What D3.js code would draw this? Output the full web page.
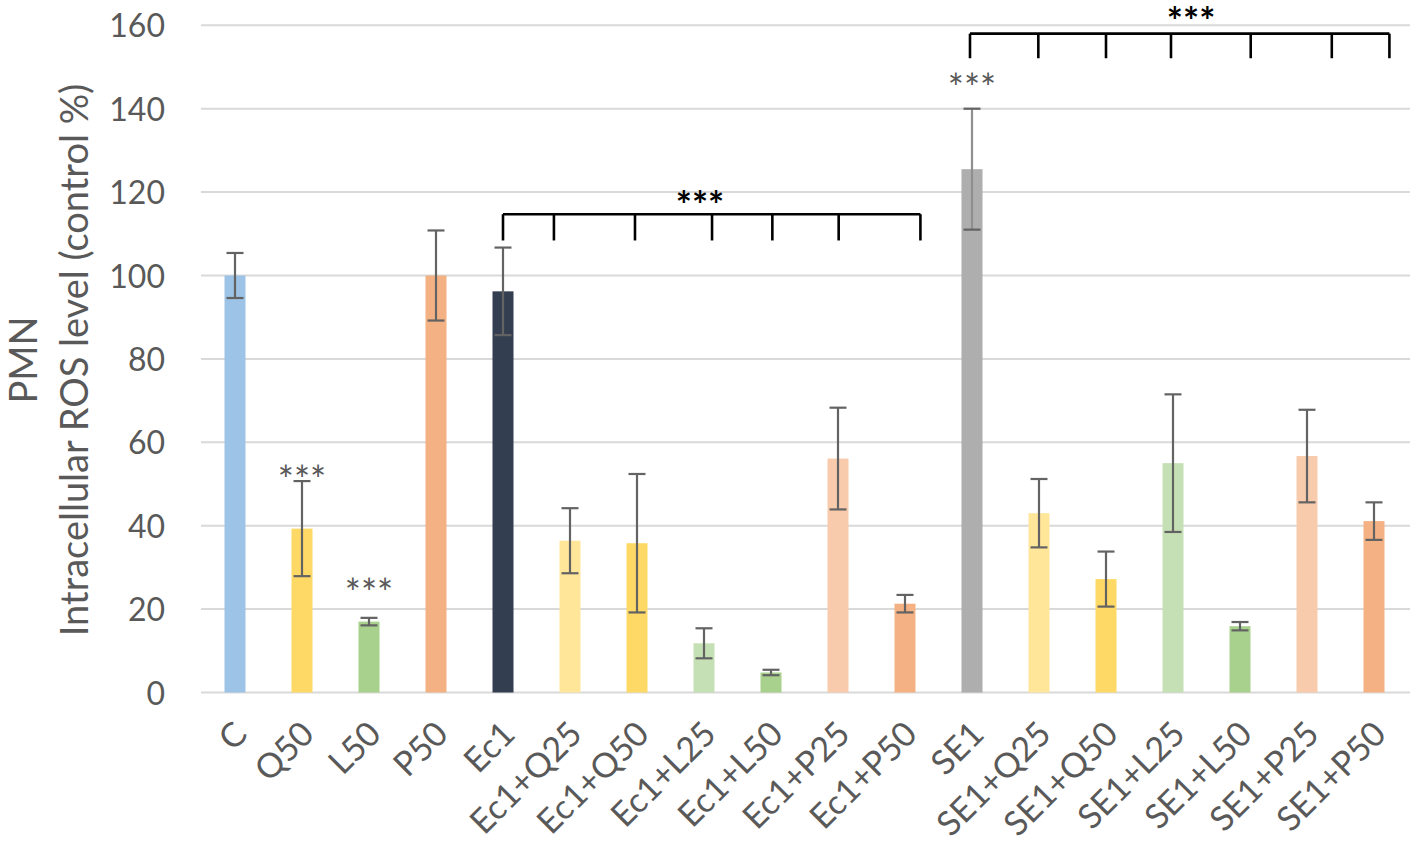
<!DOCTYPE html>
<html><head><meta charset="utf-8">
<script src="https://cdn.jsdelivr.net/npm/d3@7"></script>
<style>
html,body{margin:0;padding:0;background:#fff;}
svg{display:block;font-family:Lato,"Open Sans",sans-serif;}
</style></head>
<body><svg id="chart" width="1417" height="843"></svg>
<script>
// ---- data ----
const categories = ["C","Q50","L50","P50","Ec1","Ec1+Q25","Ec1+Q50","Ec1+L25","Ec1+L50","Ec1+P25","Ec1+P50","SE1","SE1+Q25","SE1+Q50","SE1+L25","SE1+L50","SE1+P25","SE1+P50"];
const values   = [100, 39.3, 17.0, 100, 96.2, 36.4, 35.8, 11.8, 4.8, 56.1, 21.3, 125.5, 43.0, 27.2, 55.0, 15.9, 56.7, 41.1];
const errors   = [5.4, 11.4, 0.9, 10.8, 10.5, 7.8, 16.6, 3.6, 0.65, 12.2, 2.1, 14.5, 8.2, 6.6, 16.5, 1.0, 11.1, 4.5];
const colors   = ["#9DC3E6","#FFD966","#A9D18E","#F4B183","#333F50","#FFE699","#FFD966","#C5E0B4","#A9D18E","#F8CBAD","#F4B183","#AEAEAE","#FFE699","#FFD966","#C5E0B4","#A9D18E","#F8CBAD","#F4B183"];
const yTicks   = [0,20,40,60,80,100,120,140,160];
const yTitle   = ["PMN","Intracellular ROS level (control %)"];
// significance marks on single bars (category, label baseline in value units)
const starCats = ["Q50","L50","SE1"];
const starVals = [47.6, 20.5, 141.6];
// comparison brackets: line level, tick bottom level, tick positions (in category index units)
const bracket1Ticks = [4.0, 4.76, 5.97, 7.12, 8.02, 9.01, 10.23];
const bracket2Ticks = [10.97, 11.99, 13.0, 13.97, 15.16, 16.37, 17.23];
const bracketLevels = [114.7, 158.0];
const bracketTickEnds = [108.4, 152.1];
const bracketStarVals = [113.6, 157.6];
const bracketStarIdx = [6.94, 14.27];

// ---- layout ----
const svg = d3.select("#chart");
const x = d3.scaleBand().domain(categories).range([201.5, 1407.5]).paddingInner(0).paddingOuter(0);
const y = d3.scaleLinear().domain([0,160]).range([692.5, 25.3]);
const barW = 21;
const cx = c => x(c) + x.bandwidth()/2;
const xi = i => x(categories[0]) + x.bandwidth()/2 + i * x.step();

// gridlines
svg.append("g").selectAll("line").data(yTicks).join("line")
  .attr("x1", 201).attr("x2", 1410)
  .attr("y1", d => y(d)).attr("y2", d => y(d))
  .attr("stroke", "#d9d9d9").attr("stroke-width", 2);

// y axis labels
const yAxis = d3.axisLeft(y).tickValues(yTicks).tickSize(0).tickPadding(0);
const ya = svg.append("g").attr("transform","translate(165,0)").call(yAxis);
ya.select(".domain").remove();
ya.selectAll("text").attr("font-size", 32).attr("fill","#595959").attr("font-family","Lato").attr("dy","0.36em");

// bars
const data = categories.map((c,i)=>({c, v:values[i], e:errors[i], col:colors[i]}));
svg.append("g").selectAll("rect").data(data).join("rect")
  .attr("x", d => cx(d.c) - barW/2).attr("width", barW)
  .attr("y", d => y(d.v)).attr("height", d => y(0) - y(d.v))
  .attr("fill", d => d.col);

// error bars
const eg = svg.append("g").attr("stroke","#636363").attr("stroke-width",2.2);
data.forEach(d => {
  const X = cx(d.c);
  const stemCol = d.c === "SE1" ? "#8f8f8f" : "#636363";
  eg.append("line").attr("x1",X).attr("x2",X).attr("y1",y(d.v+d.e)).attr("y2",y(d.v-d.e)).attr("stroke", stemCol);
  [d.v+d.e, d.v-d.e].forEach(v => eg.append("line").attr("x1",X-8.5).attr("x2",X+8.5).attr("y1",y(v)).attr("y2",y(v)));
});

// x labels
const xg = svg.append("g");
categories.forEach(c => {
  xg.append("text").text(c)
    .attr("transform", `translate(${cx(c)-3},${719}) rotate(-45)`)
    .attr("text-anchor","end").attr("dy","0.71em")
    .attr("font-size", 34).attr("fill","#595959");
});

// y title
yTitle.forEach((t,i) => {
  svg.append("text").text(t)
    .attr("transform", `translate(${37 + i*51},${360}) rotate(-90)`)
    .attr("text-anchor","middle").attr("font-size", 38).attr("fill","#595959");
});

// stars on single bars
starCats.forEach((c,i) => {
  svg.append("text").text("***").attr("x", cx(c)).attr("y", y(starVals[i]))
    .attr("text-anchor","middle").attr("font-size",38).attr("fill","#595959");
});

// brackets
[bracket1Ticks, bracket2Ticks].forEach((ticks,k) => {
  const g = svg.append("g").attr("stroke","#000").attr("stroke-width",2.6);
  g.append("line").attr("x1", xi(ticks[0])).attr("x2", xi(ticks[ticks.length-1]))
    .attr("y1", y(bracketLevels[k])).attr("y2", y(bracketLevels[k]));
  ticks.forEach(t => g.append("line").attr("x1", xi(t)).attr("x2", xi(t))
    .attr("y1", y(bracketLevels[k])).attr("y2", y(bracketTickEnds[k])));
  svg.append("text").text("***")
    .attr("x", xi(bracketStarIdx[k]))
    .attr("y", y(bracketStarVals[k]))
    .attr("text-anchor","middle").attr("font-size",38).attr("font-weight","bold").attr("fill","#000");
});
</script></body></html>
